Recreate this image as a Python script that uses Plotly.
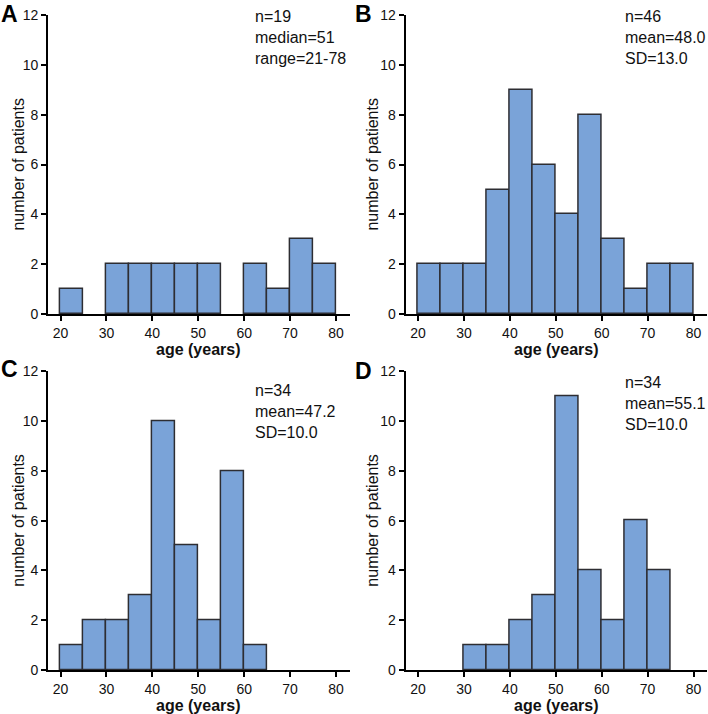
import plotly.graph_objects as go

# ---- data ----
bin_starts = [20, 25, 30, 35, 40, 45, 50, 55, 60, 65, 70, 75]
bin_width = 5
counts_A = [1, 0, 2, 2, 2, 2, 2, 0, 2, 1, 3, 2]
counts_B = [2, 2, 2, 5, 9, 6, 4, 8, 3, 1, 2, 2]
counts_C = [1, 2, 2, 3, 10, 5, 2, 8, 1, 0, 0, 0]
counts_D = [0, 0, 1, 1, 2, 3, 11, 4, 2, 6, 4, 0]
panel_letters = ["A", "B", "C", "D"]
panel_stats = [
    ["n=19", "median=51", "range=21-78"],
    ["n=46", "mean=48.0", "SD=13.0"],
    ["n=34", "mean=47.2", "SD=10.0"],
    ["n=34", "mean=55.1", "SD=10.0"],
]
x_title = "age (years)"
y_title = "number of patients"
x_ticks = [20, 30, 40, 50, 60, 70, 80]
y_ticks = [0, 2, 4, 6, 8, 10, 12]

all_counts = [counts_A, counts_B, counts_C, counts_D]

FONT = "Liberation Sans, Arial, Helvetica, sans-serif"
BAR_FILL = "rgb(122,163,216)"
BAR_LINE = "rgb(45,45,50)"

fig = go.Figure()

xdomains = [[0.068, 0.494], [0.573, 0.999]]
ydomains = [[0.560, 0.979], [0.0616, 0.480]]

for i, counts in enumerate(all_counts):
    ax = "" if i == 0 else str(i + 1)
    centers = [s + bin_width / 2 for s in bin_starts]
    ys = [c if c > 0 else None for c in counts]
    fig.add_trace(go.Bar(
        x=centers, y=ys, width=[bin_width] * len(centers),
        marker=dict(color=BAR_FILL, line=dict(color=BAR_LINE, width=1.5)),
        xaxis="x" + ax, yaxis="y" + ax, showlegend=False,
    ))
    row, col = divmod(i, 2)
    common = dict(
        showline=True, linecolor="black", linewidth=2,
        ticks="outside", ticklen=5, tickwidth=1.5, tickcolor="black",
        showgrid=False, zeroline=False, automargin=False,
        tickfont=dict(family=FONT, size=14, color="#111"),
    )
    fig.layout["xaxis" + ax] = dict(
        common, domain=xdomains[col], range=[17.3, 83.0],
        tickvals=x_ticks, anchor="y" + ax,
    )
    fig.layout["yaxis" + ax] = dict(
        common, domain=ydomains[row], range=[0, 12],
        tickvals=y_ticks, anchor="x" + ax,
    )
    # axis titles
    x_off = [0, 354, 0, 354][i]
    y_off = [0, 0, 356, 356][i]
    fig.add_annotation(
        text="<b>" + x_title + "</b>", xref="paper", yref="paper",
        x=(xdomains[col][0] + xdomains[col][1]) / 2,
        y=1 - (y_off + 349) / 714, xanchor="center", yanchor="middle",
        showarrow=False, font=dict(family=FONT, size=16, color="#111"), borderpad=0,
    )
    fig.add_annotation(
        text=y_title, xref="paper", yref="paper", textangle=-90,
        x=(x_off + 19) / 708,
        y=(ydomains[row][0] + ydomains[row][1]) / 2, xanchor="center", yanchor="middle",
        showarrow=False, font=dict(family=FONT, size=16, color="#111"), borderpad=0,
    )
    # stats text
    ty_top = [6, 6, 380, 372][i]
    tx = [253, 623, 253, 623][i]
    fig.add_annotation(
        text="<br>".join(panel_stats[i]), xref="paper", yref="paper",
        x=tx / 708, y=1 - ty_top / 714, xanchor="left", yanchor="top", align="left",
        showarrow=False, font=dict(family=FONT, size=16, color="#111"),
    )
    # panel letter
    lx = [-1, 353, -1, 353][i]
    ly = [-1, -1, 354, 356][i]
    fig.add_annotation(
        text="<b>" + panel_letters[i] + "</b>", xref="paper", yref="paper",
        x=lx / 708, y=1 - ly / 714, xanchor="left", yanchor="top",
        showarrow=False, font=dict(family=FONT, size=23, color="black"),
    )

fig.update_layout(
    width=708, height=714,
    margin=dict(l=0, r=0, t=0, b=0),
    paper_bgcolor="white", plot_bgcolor="white",
    bargap=0,
)

fig.write_html("out.html", config={"displayModeBar": False},
               post_script="document.body.style.margin='0';document.body.style.overflow='hidden';")
